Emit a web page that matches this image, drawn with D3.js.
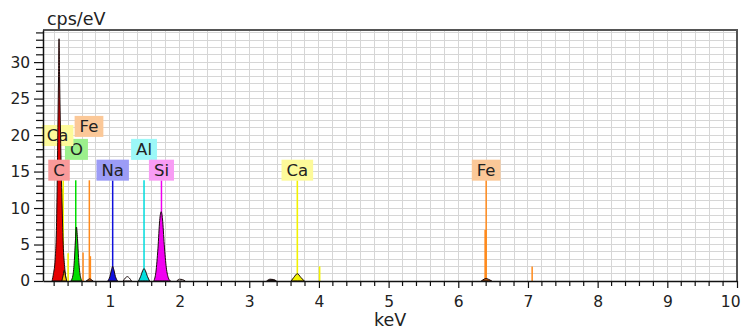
<!DOCTYPE html>
<html>
<head>
<meta charset="utf-8">
<script src="https://cdn.jsdelivr.net/npm/d3@7"></script>
<style>
  body { margin: 0; background: #fff; }
  svg text { font-family: "DejaVu Sans", Verdana, sans-serif; fill: #222; }
</style>
</head>
<body>
<svg id="chart" width="741" height="329"></svg>
<script>
// Axis ticks
const xTickValues = [1, 2, 3, 4, 5, 6, 7, 8, 9, 10];
const yTickValues = [0, 5, 10, 15, 20, 25, 30];

// Spectrum peaks as [keV, cps/eV] points
const peakC  = [[0.17,0],[0.19,1],[0.215,3],[0.235,8],[0.245,14],[0.255,22],[0.263,28],[0.27,33.2],[0.278,28],[0.288,22],[0.30,16],[0.315,10],[0.33,5],[0.35,2],[0.375,0]];
const peakCaL = [[0.31,0],[0.33,0.8],[0.345,1.5],[0.36,0.8],[0.38,0]];
const peakO  = [[0.44,0],[0.47,0.8],[0.49,2.8],[0.505,5.5],[0.52,7.4],[0.535,5.8],[0.55,3.2],[0.57,1],[0.60,0]];
const peakFeL = [[0.66,0],[0.69,0.2],[0.71,0.3],[0.73,0.2],[0.76,0]];
const peakNa = [[0.97,0],[1.0,0.6],[1.025,1.6],[1.04,2.0],[1.055,1.6],[1.08,0.6],[1.11,0]];
const peakMg = [[1.19,0],[1.22,0.4],[1.25,0.6],[1.28,0.4],[1.31,0]];
const peakAl = [[1.41,0],[1.44,0.6],[1.47,1.4],[1.49,1.7],[1.51,1.4],[1.54,0.6],[1.57,0]];
const peakSi = [[1.63,0],[1.66,1.2],[1.69,4.5],[1.715,8.3],[1.735,9.5],[1.755,8.5],[1.78,5],[1.81,1.8],[1.84,0.4],[1.87,0]];
const peakP  = [[1.96,0],[2.0,0.25],[2.04,0.2],[2.08,0]];
const peakK  = [[3.25,0],[3.30,0.25],[3.35,0.2],[3.39,0]];
const peakCaK = [[3.60,0],[3.64,0.5],[3.69,1.0],[3.74,0.5],[3.79,0]];
const peakFeK = [[6.33,0],[6.37,0.25],[6.40,0.35],[6.43,0.25],[6.48,0]];

// Element line markers as [keV, height]
const linesC  = [[0.277, 13.8]];
const linesO  = [[0.51, 13.8]];
const linesCa = [[0.31, 12.6], [0.33, 13.8], [0.40, 3.8], [3.69, 13.8], [4.01, 2.0]];
const linesFe = [[0.615, 3.9], [0.705, 13.8], [0.72, 3.4], [6.40, 13.8], [7.06, 2.0]];
const linesFeStrong = [[6.39, 7.0]];
const linesNa = [[1.04, 13.8]];
const linesAl = [[1.49, 13.8]];
const linesSi = [[1.74, 13.8]];

// Element labels
const labelText = ["C", "Ca", "O", "Fe", "Na", "Al", "Si", "Ca", "Fe"];
const labelKeV  = [0.27, 0.25, 0.52, 0.70, 1.04, 1.49, 1.74, 3.69, 6.40];

const svg = d3.select("#chart");
const margin = { left: 43, right: 4, top: 30, bottom: 48 };
const W = 741, H = 329;
const FONT = "'DejaVu Sans', Verdana, sans-serif";

const x = d3.scaleLinear().domain([0.04, 10]).range([margin.left, W - margin.right]);
const y = d3.scaleLinear().domain([0, 34.4]).range([H - margin.bottom, margin.top]);

const x0 = margin.left, x1 = W - margin.right, y0 = H - margin.bottom, y1 = margin.top;

// grid
const gridX = d3.range(0.2, 10.0001, 0.2).map(v => +v.toFixed(2));
const gridY = d3.range(1, 35, 1);
svg.append("g").selectAll("line").data(gridX).join("line")
  .attr("x1", d => x(d)).attr("x2", d => x(d)).attr("y1", y0).attr("y2", y1)
  .attr("stroke", "#d6d6d6").attr("stroke-width", 1).attr("shape-rendering", "crispEdges");
svg.append("g").selectAll("line").data(gridY).join("line")
  .attr("x1", x0).attr("x2", x1).attr("y1", d => y(d)).attr("y2", d => y(d))
  .attr("stroke", "#d6d6d6").attr("stroke-width", 1).attr("shape-rendering", "crispEdges");

// frame
svg.append("path")
  .attr("d", `M${x0},${y1}H${x1}V${y0}`)
  .attr("fill", "none").attr("stroke", "#555").attr("stroke-width", 2);

const colors = {
  C: "#e60000", O: "#00dd00", Ca: "#f2f200", Fe: "#ff8a1c",
  Na: "#1010dd", Al: "#00dddd", Si: "#f000f0", K: "#222", Mg: "#ffffff"
};
const boxColors = {
  C: "#f99a9a", O: "#9cf08c", Ca: "#fdfa9a", Fe: "#fbc898",
  Na: "#9c9cf6", Al: "#9cf8f8", Si: "#f89cf4"
};

const area = d3.area().x(d => x(d[0])).y0(y(0)).y1(d => y(d[1])).curve(d3.curveMonotoneX);

// label layout: box bottom in cps/eV, drawn before (under) or after the spectrum
const boxBottom = [13.75, 18.5, 16.6, 19.75, 13.75, 16.6, 13.75, 13.75, 13.75];
const boxOnTop  = [true, false, false, false, true, false, true, true, true];
const drawOrder = [2, 1, 3, 5, 0, 4, 6, 7, 8];

function drawLabel(g, i) {
  const t = labelText[i];
  const cx = x(labelKeV[i]);
  const yb = y(boxBottom[i]);
  const grp = g.append("g");
  const txt = grp.append("text").attr("x", cx).attr("y", yb - 5)
    .attr("text-anchor", "middle").attr("font-size", 16.5).text(t);
  const w = txt.node().getComputedTextLength() + 10;
  grp.insert("rect", "text").attr("x", cx - w / 2).attr("y", yb - 21)
    .attr("width", w).attr("height", 21).attr("fill", boxColors[t]);
}

const under = svg.append("g");
drawOrder.filter(i => !boxOnTop[i]).forEach(i => drawLabel(under, i));

// marker lines
function markers(data, color, width) {
  svg.append("g").selectAll("line").data(data).join("line")
    .attr("x1", d => x(d[0])).attr("x2", d => x(d[0]))
    .attr("y1", y(0)).attr("y2", d => y(d[1]))
    .attr("stroke", color).attr("stroke-width", width);
}
markers(linesO, colors.O, 1.5);
markers(linesCa, colors.Ca, 1.6);
markers(linesFe, colors.Fe, 1.5);
markers(linesFeStrong, colors.Fe, 2.2);
markers(linesNa, colors.Na, 1.5);
markers(linesAl, colors.Al, 1.5);
markers(linesSi, colors.Si, 1.5);
markers(linesC, colors.C, 1.5);

// spectrum peaks
const peaks = [
  [peakO, colors.O], [peakFeL, "#e07020"], [peakNa, colors.Na], [peakMg, colors.Mg],
  [peakAl, colors.Al], [peakSi, colors.Si], [peakP, "#ffffff"], [peakK, colors.K],
  [peakCaK, colors.Ca], [peakFeK, "#b8560e"], [peakC, colors.C], [peakCaL, "#f3c000"]
];
const pg = svg.append("g");
peaks.forEach(([data, fill]) => {
  pg.append("path").datum(data).attr("d", area)
    .attr("fill", fill).attr("stroke", "#1a0a0a").attr("stroke-width", 1)
    .attr("stroke-linejoin", "round");
});

// axes
const xAxis = d3.axisBottom(x).tickValues(xTickValues).tickSize(7).tickSizeOuter(0).tickFormat(d3.format("d"));
const gx = svg.append("g").attr("transform", `translate(0,${y0})`).call(xAxis);
gx.select(".domain").attr("stroke", "#111").attr("stroke-width", 1.5);
gx.selectAll(".tick line").attr("stroke", "#111").attr("stroke-width", 1.2);
gx.selectAll(".tick text").attr("font-size", 15.5).attr("dy", "1.05em")
  .style("font-family", FONT).attr("fill", "#222");
// keep the last label inside the page
gx.selectAll(".tick text").filter(d => d === 10)
  .attr("text-anchor", "end").attr("x", W - 1 - x(10));
gx.append("g").selectAll("line").data(gridX.filter(v => Math.abs(v - Math.round(v)) > 0.01)).join("line")
  .attr("x1", d => x(d)).attr("x2", d => x(d)).attr("y1", 0).attr("y2", 5)
  .attr("stroke", "#111").attr("stroke-width", 1.2);

const yAxis = d3.axisLeft(y).tickValues(yTickValues).tickSize(9).tickSizeOuter(0);
const gy = svg.append("g").attr("transform", `translate(${x0},0)`).call(yAxis);
gy.select(".domain").attr("stroke", "#111").attr("stroke-width", 1.5);
gy.selectAll(".tick line").attr("stroke", "#111").attr("stroke-width", 1.2);
gy.selectAll(".tick text").attr("font-size", 15.5).attr("dx", "-0.05em")
  .style("font-family", FONT).attr("fill", "#222");
gy.append("g").selectAll("line").data(gridY.filter(v => v % 5 !== 0)).join("line")
  .attr("x1", -7).attr("x2", 0).attr("y1", d => y(d)).attr("y2", d => y(d))
  .attr("stroke", "#111").attr("stroke-width", 1.2);

// labels drawn above the spectrum
const over = svg.append("g");
drawOrder.filter(i => boxOnTop[i]).forEach(i => drawLabel(over, i));

// axis titles
svg.append("text").attr("x", 47).attr("y", 25).attr("font-size", 17.5).text("cps/eV");
svg.append("text").attr("x", (x0 + x1) / 2).attr("y", 326).attr("text-anchor", "middle")
  .attr("font-size", 17.5).text("keV");
</script>
</body>
</html>
